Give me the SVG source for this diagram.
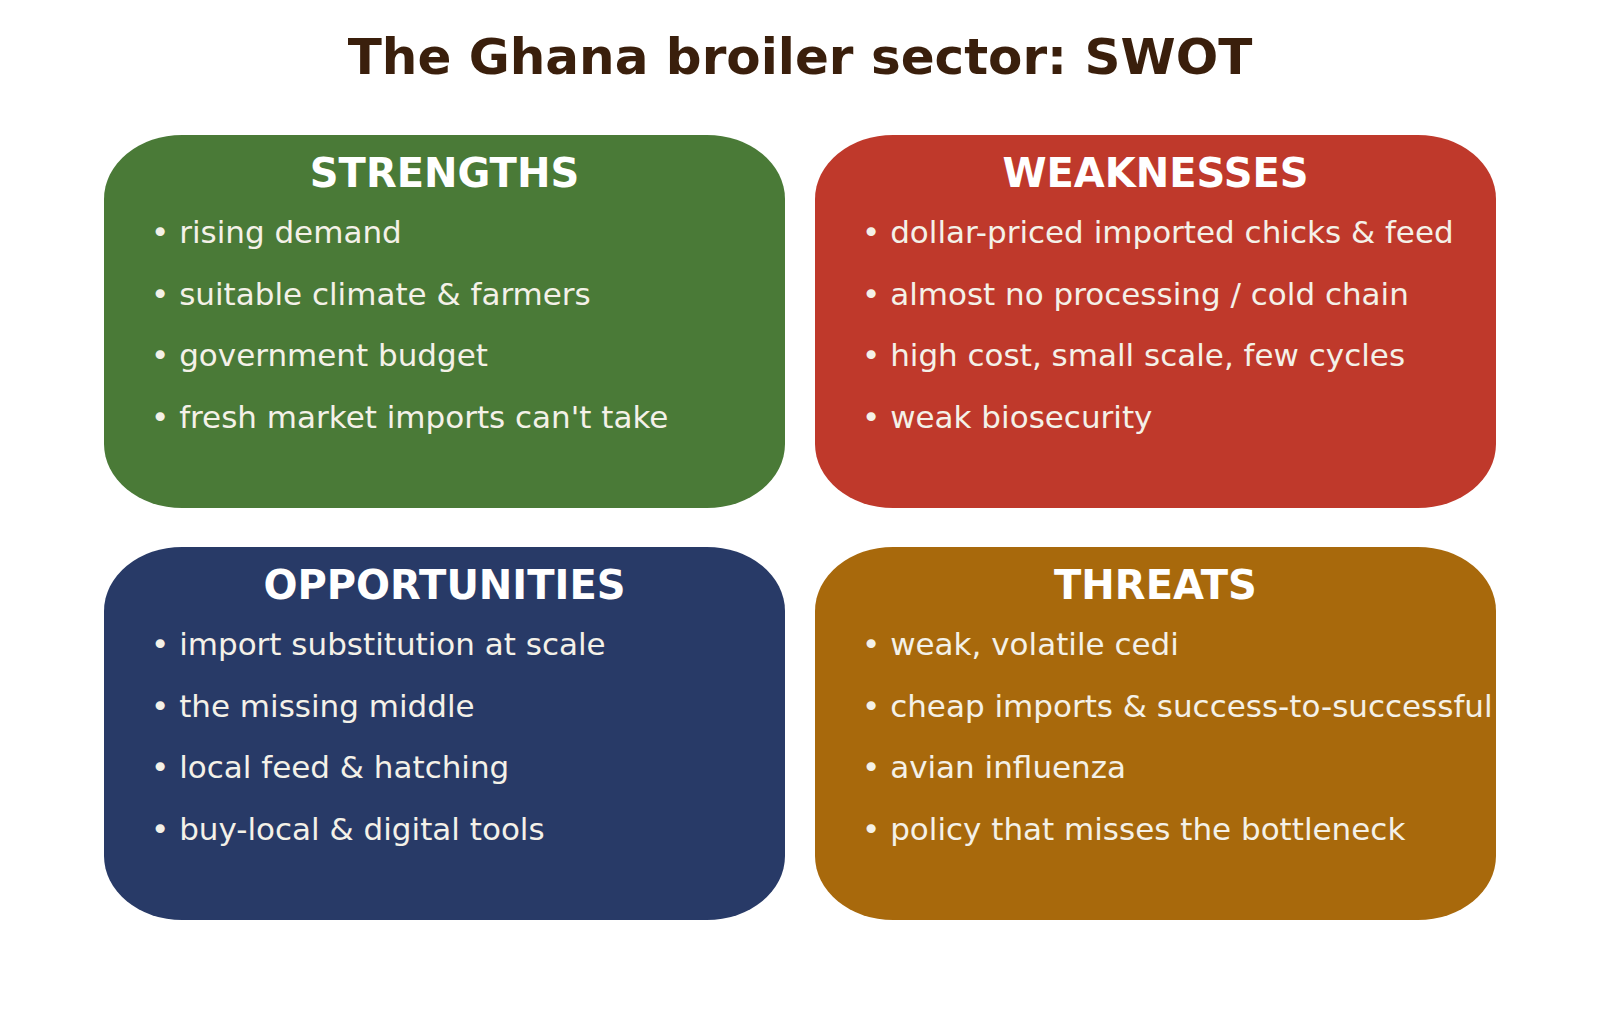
<svg xmlns="http://www.w3.org/2000/svg" width="1600" height="1036" viewBox="0 0 1600 1036">
<style>
.title{font-family:"DejaVu Sans",sans-serif;font-weight:bold;font-size:50px;fill:#3a1f0c;text-anchor:middle}
.head{font-family:"DejaVu Sans",sans-serif;font-weight:bold;font-size:40px;fill:#ffffff;text-anchor:middle}
.item{font-family:"DejaVu Sans",sans-serif;font-size:31px;fill:#f4f1e8}
.box{stroke:none}
</style>
<rect width="1600" height="1036" fill="#ffffff"/>
<text class="title" x="800" y="74">The Ghana broiler sector: SWOT</text>
<g id="strengths">
<rect class="box" x="104" y="135" width="681" height="373" rx="78" ry="64" fill="#4a7a37"/>
<text class="head" x="444.5" y="187">STRENGTHS</text>
<text class="item" x="151" y="243">• rising demand</text>
<text class="item" x="151" y="305">• suitable climate &amp; farmers</text>
<text class="item" x="151" y="366">• government budget</text>
<text class="item" x="151" y="428">• fresh market imports can't take</text>
</g>
<g id="weaknesses">
<rect class="box" x="815" y="135" width="681" height="373" rx="78" ry="64" fill="#bf392b"/>
<text class="head" x="1155.5" y="187">WEAKNESSES</text>
<text class="item" x="862" y="243">• dollar-priced imported chicks &amp; feed</text>
<text class="item" x="862" y="305">• almost no processing / cold chain</text>
<text class="item" x="862" y="366">• high cost, small scale, few cycles</text>
<text class="item" x="862" y="428">• weak biosecurity</text>
</g>
<g id="opportunities">
<rect class="box" x="104" y="547" width="681" height="373" rx="78" ry="64" fill="#283a67"/>
<text class="head" x="444.5" y="599">OPPORTUNITIES</text>
<text class="item" x="151" y="655">• import substitution at scale</text>
<text class="item" x="151" y="717">• the missing middle</text>
<text class="item" x="151" y="778">• local feed &amp; hatching</text>
<text class="item" x="151" y="840">• buy-local &amp; digital tools</text>
</g>
<g id="threats">
<rect class="box" x="815" y="547" width="681" height="373" rx="78" ry="64" fill="#a8690c"/>
<text class="head" x="1155.5" y="599">THREATS</text>
<text class="item" x="862" y="655">• weak, volatile cedi</text>
<text class="item" x="862" y="717">• cheap imports &amp; success-to-successful</text>
<text class="item" x="862" y="778">• avian influenza</text>
<text class="item" x="862" y="840">• policy that misses the bottleneck</text>
</g>
<g id="connectors"></g>
</svg>
